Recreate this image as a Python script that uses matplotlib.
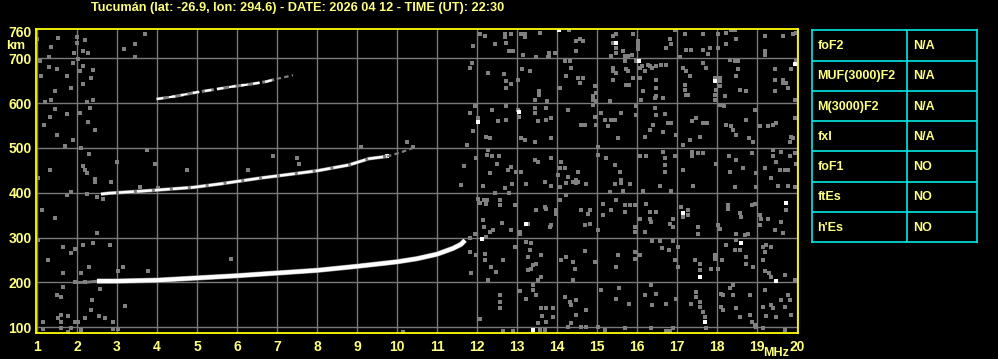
import matplotlib
matplotlib.use("Agg")
import matplotlib.pyplot as plt

# ---------------- data ----------------
title = "Tucumán (lat: -26.9, lon: 294.6) - DATE: 2026 04 12 - TIME (UT): 22:30"

x_ticks = list(range(1, 21))
y_ticks = [100, 200, 300, 400, 500, 600, 700]
y_top_label = 760

# main F trace (white) and its faint start (gray)
f1_freq = [2.5, 3.0, 4.0, 5.0, 6.0, 7.0, 8.0, 9.0, 10.0, 10.5, 11.0, 11.4, 11.6, 11.7]
f1_height = [203, 203, 205, 210, 215, 221, 227, 236, 246, 253, 263, 276, 285, 294]
f1_gray_freq = [1.9, 2.1, 2.3, 2.5]
f1_gray_height = [200, 200, 201, 203]

# second hop trace
f2_freq = [2.6, 2.8, 3.5, 4.0, 4.9, 5.6, 6.6, 7.4, 8.0, 8.8, 9.3, 9.75]
f2_height = [397, 399, 403, 406, 412, 420, 433, 442, 449, 462, 476, 481]
f2_gray_freq = [9.75, 10.1, 10.4]
f2_gray_height = [481, 490, 500]

# third hop trace
f3_freq = [3.99, 4.45, 4.99, 5.9, 6.33, 6.74, 6.99]
f3_height = [609, 615, 624, 637, 642, 648, 654]
f3_gray_freq = [6.99, 7.2, 7.4]
f3_gray_height = [654, 658, 662]

# scattered noise echoes (gray)
noise_gray = [
    # right side, 500-764 km
    (12.07,753),(12.19,749),(12.44,731),(12.69,753),(12.69,747),(12.73,734),(12.8,716),(12.86,753),
    (12.9,716),(13.11,753),(13.19,753),(13.19,747),(13.58,757),(13.79,712),(13.79,706),(13.94,712),
    (14.29,762),(14.48,738),(14.57,742),(14.65,738),(14.48,717),(15.4,749),(15.48,753),(15.4,734),
    (15.48,723),(15.48,712),(15.65,716),(15.9,753),(15.88,708),(16.03,738),(16.03,731),(16.03,727),
    (16.03,720),(16.82,742),(16.84,731),(16.73,723),(16.94,762),(17.19,754),(17.23,719),(17.34,719),
    (17.65,753),(17.65,719),(17.78,710),(17.82,723),(18.03,753),(18.03,722),(18.23,757),(18.36,762),
    (18.44,762),(18.48,742),(18.23,731),(19.19,749),(19.19,716),(19.19,708),(19.65,749),(19.9,753),
    (19.98,757),(13.15,708),(13.48,702),(13.77,702),(15.36,704),(15.69,704),(15.78,704),(17.07,702),
    (11.9,727),
    (11.88,690),(11.82,678),(12.28,667),(12.68,665),(12.73,649),(12.86,643),(12.73,634),(13.03,652),
    (13.13,675),(13.33,672),(13.54,626),(13.54,619),(13.44,607),(13.75,604),(14.08,634),(14.19,693),
    (14.32,693),(14.36,678),(14.23,660),(14.53,656),(14.57,645),(14.65,656),(14.94,637),(14.98,622),
    (14.9,615),(14.9,607),(14.98,604),(15.32,604),(15.4,678),(15.4,671),(15.48,667),(15.4,652),
    (15.69,693),(15.73,675),(15.78,671),(15.73,641),(15.8,640),(15.9,656),(15.98,693),(16.07,678),
    (16.07,656),(16.13,682),(16.19,671),(16.28,686),(16.32,682),(16.38,678),(16.48,682),(16.48,652),
    (16.48,634),(16.47,615),(16.44,611),(16.61,686),(16.73,684),(16.65,611),(16.15,626),(16.11,607),
    (17.15,678),(17.23,671),(17.32,660),(17.19,641),(17.19,630),(17.22,619),(17.28,619),(17.65,690),
    (17.73,678),(17.94,656),(17.98,630),(17.94,619),(17.94,607),(18.08,656),(18.08,649),(18.08,637),
    (18.19,615),(18.32,697),(18.44,693),(18.53,693),(18.53,675),(18.48,660),(18.58,630),(18.73,626),
    (19.44,675),(19.44,652),(19.65,652),(19.65,645),(19.73,645),(19.78,634),(19.44,626),(19.86,675),
    (19.94,607),(19.98,697),
    (11.94,593),(11.82,578),(12.03,566),(11.9,537),(12.38,585),(12.53,559),(12.73,593),(12.73,563),
    (13.03,585),(13.04,570),(13.44,589),(13.44,578),(13.53,559),(13.73,589),(13.73,563),(13.86,566),
    (13.11,522),(13.19,518),(13.44,514),(13.84,522),(14.28,585),(14.61,552),(14.69,552),(14.98,552),
    (14.9,596),(14.94,570),(15.11,578),(15.19,563),(15.28,548),(15.36,563),(15.44,563),(15.53,522),
    (15.61,578),(15.98,593),(15.98,574),(16.19,525),(16.32,540),(16.4,552),(16.44,589),(16.48,574),
    (16.69,575),(16.78,555),(16.84,555),(16.65,535),(16.98,529),(17.15,507),(17.32,518),(17.38,559),
    (17.48,566),(17.57,525),(17.65,555),(17.75,555),(18.07,596),(18.17,593),(18.23,552),(18.36,548),
    (18.4,540),(18.48,529),(18.73,563),(18.8,522),(18.9,514),(18.94,585),(19.07,548),(19.28,548),
    (19.4,552),(19.48,555),(19.86,525),(19.9,522),(19.82,514),(19.94,566),(12.23,525),(12.33,522),
    (12.28,496),(12.25,484),(12.38,481),(12.55,481),(12.5,464),(11.98,477),(12.32,443),(12.78,451),
    (12.86,458),(12.98,447),(13.11,446),(13.44,473),(13.53,469),(13.86,477),(14.11,469),(14.07,455),
    (14.19,455),(14.28,436),(14.53,446),(14.03,440),(14.4,425),(14.48,428),(15.03,503),(15.03,484),
    (15.23,477),(15.44,462),(15.58,447),(15.61,428),(16.07,482),(16.23,482),(16.65,492),(16.69,477),
    (16.69,462),(16.69,447),(16.94,481),(17.15,451),(17.38,492),(17.38,481),(17.53,488),(17.65,488),
    (17.98,464),(18.3,481),(18.32,447),(18.48,473),(18.65,455),(18.88,488),(18.97,443),(19.19,455),
    (19.4,496),(19.61,492),(19.4,481),(19.48,469),(19.57,451),(19.69,451),(19.78,451),(19.82,481),
    (19.94,488),(19.97,464),(19.36,432),
    # right side, 87-430 km
    (12.15,416),(12.69,411),(12.88,419),(13.23,420),(13.69,424),(13.86,416),(14.08,413),(14.23,421),
    (14.47,421),(14.53,424),(14.73,420),(15.44,420),(15.61,421),(15.82,420),(15.32,401),(15.65,405),
    (16.15,405),(16.57,414),(16.86,405),(17.4,416),(18.44,413),(18.98,413),(19.53,416),(19.78,414),
    (19.94,413),(12.44,399),(12.8,399),
    (12.03,387),(12.07,377),(12.17,384),(12.25,383),(12.22,374),(12.58,372),(12.58,383),(12.94,372),
    (12.15,340),(12.17,324),(12.33,313),(12.4,316),(12.63,333),(12.86,318),(13.07,313),(13.07,307),
    (13.28,330),(13.48,362),(13.69,368),(13.73,364),(13.86,327),(13.82,324),(13.98,362),(13.98,353),
    (14.08,384),(14.23,394),(14.61,361),(14.69,327),(14.78,353),(14.82,362),(14.83,331),(15.03,318),
    (15.15,350),(15.15,376),(15.36,361),(15.48,384),(15.69,372),(15.69,357),(15.82,372),(15.94,372),
    (15.94,324),(15.94,313),(16.19,313),(16.08,342),(16.23,376),(16.32,357),(16.32,342),(16.36,335),
    (16.48,357),(16.82,331),(16.9,342),(16.9,324),(17.15,346),(17.11,368),(17.28,361),(17.28,350),
    (17.53,324),(17.53,309),(18.03,327),(18.07,320),(18.28,372),(18.28,364),(18.48,309),(18.58,355),
    (18.61,346),(18.69,305),(18.78,309),(18.88,372),(18.94,376),(19.07,327),(19.07,350),(19.11,342),
    (19.28,342),(19.44,316),(19.65,310),(19.73,362),(19.61,335),(11.94,307),(11.82,300),(12.22,301),
    (11.82,268),(11.97,261),(12.19,263),(12.19,250),(12.36,235),(12.48,224),(12.65,250),(12.94,279),
    (13.23,290),(13.36,287),(13.32,272),(13.28,227),(13.36,231),(13.4,238),(13.48,242),(13.61,261),
    (13.28,257),(13.61,213),(14.11,250),(14.23,257),(14.4,246),(14.44,231),(14.4,205),(14.69,270),
    (14.94,246),(15.48,235),(15.53,261),(15.94,268),(15.94,253),(16.07,261),(16.38,292),(16.58,292),
    (16.9,292),(16.63,276),(16.8,272),(16.94,250),(17.03,235),(17.03,279),(17.44,250),(17.58,242),
    (17.58,227),(17.86,231),(17.94,261),(17.94,253),(18.03,229),(18.13,250),(18.23,283),(18.44,272),
    (18.48,294),(18.58,272),(18.73,257),(18.73,242),(18.9,235),(19.15,279),(19.19,268),(19.23,283),
    (19.36,279),(19.15,250),(19.19,226),(19.3,220),(19.36,213),(19.69,216),(19.94,205),(11.86,221),
    (12.28,205),(13.53,205),
    (12.08,118),(12.57,172),(12.58,157),(12.58,144),(13.08,181),(13.23,162),(13.4,194),(13.4,183),
    (13.48,172),(13.61,142),(13.73,142),(13.9,142),(13.63,125),(13.73,112),(13.53,110),(13.58,95),
    (13.69,95),(13.9,124),(14.19,168),(14.32,157),(14.36,150),(14.48,161),(14.73,138),(14.48,127),
    (14.36,109),(14.28,101),(14.61,101),(14.73,101),(15.03,101),(15.09,183),(15.19,94),(15.55,187),
    (15.48,164),(15.8,153),(15.69,98),(16.19,172),(16.36,194),(16.38,150),(16.48,175),(16.73,153),
    (16.98,164),(16.9,98),(16.36,98),(17.36,153),(17.48,179),(17.48,168),(17.57,157),(17.57,146),
    (17.65,135),(17.69,124),(17.73,98),(18.11,175),(18.15,172),(18.11,146),(18.15,138),(18.32,187),
    (18.4,194),(18.4,172),(18.48,142),(18.58,124),(18.82,172),(18.82,127),(18.88,112),(18.94,105),
    (19.15,146),(19.19,183),(19.36,150),(19.4,142),(19.61,161),(19.69,146),(19.78,172),(19.82,161),
    (19.86,127),(19.23,125),(19.48,124),(19.69,94),(18.98,101),(19.15,98),(12.65,92),(12.9,92),
    (16.73,92),(16.82,92),
    # left side
    (1.0,742),(1.34,724),(1.53,744),(1.99,747),(1.99,733),(2.2,740),(2.15,716),(2.28,711),(1.93,711),
    (1.3,702),(1.08,693),(1.3,680),(1.5,677),(1.9,689),(2.03,698),(2.15,682),(2.4,673),(2.08,671),
    (1.1,660),(1.75,660),(2.35,655),(2.15,642),(1.85,633),(1.45,626),(1.2,602),(1.35,606),(1.45,586),
    (2.08,577),(2.25,602),(2.4,606),(2.33,588),(1.75,575),(1.33,568),
    (3.18,720),(3.45,731),(3.7,755),(3.45,702),
    (1.7,504),(1.9,517),(2.09,499),(2.3,486),(2.14,460),(2.2,450),(2.24,445),(2.45,424),(2.45,430),
    (2.84,424),(2.99,469),(3.74,495),(3.95,464),(4.74,450),(6.28,450),(6.89,481),(7.49,478),(7.55,464),
    (1.74,395),(1.85,402),(2.24,397),(2.49,391),(2.64,385),(3.58,413),(3.48,402),(4.03,410),
    (2.49,311),(1.64,280),(1.95,274),(2.14,283),(2.39,288),(1.85,266),(2.3,235),(3.14,235),(3.03,226),
    (3.78,226),(2.09,222),(1.64,222),(5.84,252),(1.64,190),(1.6,168),(1.95,202),(2.2,202),(2.58,185),
    (1.14,112),(1.14,96),(1.59,127),(1.59,112),(1.59,98),(1.53,121),(1.78,126),(1.95,112),(2.03,112),
    (2.09,94),(1.78,90),(1.84,98),(2.2,121),(2.34,139),(2.55,126),(2.7,121),(2.89,112),(2.89,96),
    (3.03,96),(3.2,147),(10.15,90),
    (10.24,513),(10.41,501),(9.1,501),(11.74,506),(11.68,460),(11.59,418),
    (1.18,551),(1.5,528),(2.28,557),(2.45,539),(1.33,450),(1.03,433),(1.13,361),(1.45,343),
    (1.28,250),(1.03,295),(2.83,283),(1.5,172),(2.38,161),
]

# brighter noise echoes (white)
noise_white = [
    (14.04,762),(15.48,734),(16.04,693),(17.94,649),(19.94,687),(12.03,558),(13.04,580),
    (13.23,331),(17.15,355),(19.73,377),(12.13,297),(17.58,213),(18.59,288),(19.48,204),
    (13.4,95),(17.69,112),(9.75,481),
]

table_labels = ["foF2", "MUF(3000)F2", "M(3000)F2", "fxI", "foF1", "ftEs", "h'Es"]
table_values = ["N/A", "N/A", "N/A", "N/A", "NO", "NO", "NO"]

# ---------------- style ----------------
YEL_TXT = "#FFFF80"
YEL_FRAME = "#FFFF00"
GRID = "#7a7a7a"
NOISE = "#808080"
CYAN = "#00E8E8"
FONT = ["Liberation Sans", "DejaVu Sans"]

W, H = 998, 359
fig = plt.figure(figsize=(W / 100, H / 100), dpi=100, facecolor="black")

def fx(px):
    return px / W

def fy(py):
    return 1 - py / H

ax = fig.add_axes([fx(36), fy(333.3), fx(798) - fx(36), fy(29.3) - fy(333.3)])
ax.set_facecolor("black")
ax.set_xlim(0.975, 20.025)
ax.set_ylim(86.6, 764.5)

for xv in x_ticks:
    ax.axvline(xv, color=GRID, lw=1.0, zorder=1)
for yv in y_ticks:
    ax.axhline(yv, color=GRID, lw=1.0, zorder=1)

ng_f = [p[0] for p in noise_gray]
ng_h = [p[1] for p in noise_gray]
nw_f = [p[0] for p in noise_white]
nw_h = [p[1] for p in noise_white]
ax.plot(ng_f, ng_h, ls="none", marker="s", ms=2.2, mew=0, color=NOISE, zorder=2)
ax.plot(nw_f, nw_h, ls="none", marker="s", ms=2.4, mew=0, color="white", zorder=3)

# traces
ax.plot(f1_gray_freq, f1_gray_height, color=NOISE, lw=2.0, zorder=3, solid_capstyle="butt")
ax.plot(f1_freq, f1_height, color=NOISE, lw=3.8, zorder=3, solid_capstyle="butt")
ax.plot(f1_freq, f1_height, color="white", lw=3.0, zorder=4, solid_capstyle="butt")

ax.plot(f2_gray_freq, f2_gray_height, color=NOISE, lw=1.6, zorder=3, ls=(0, (2, 1.5)))
ax.plot(f2_freq, f2_height, color=NOISE, lw=2.6, zorder=3, solid_capstyle="butt")
ax.plot(f2_freq, f2_height, color="white", lw=1.8, zorder=4, ls=(0, (6, 1.2)))

ax.plot(f3_gray_freq, f3_gray_height, color=NOISE, lw=1.6, zorder=3, ls=(0, (2, 1.5)))
ax.plot(f3_freq, f3_height, color=NOISE, lw=2.2, zorder=3, ls=(0, (4, 1)))
ax.plot(f3_freq, f3_height, color="white", lw=1.6, zorder=4, ls=(0, (3, 2.5)))

for sp in ax.spines.values():
    sp.set_color(YEL_FRAME)
    sp.set_linewidth(1.3)
    sp.set_zorder(6)

ax.set_xticks(x_ticks)
ax.set_xticklabels([str(v) for v in x_ticks])
ax.set_yticks(y_ticks + [y_top_label])
ax.set_yticklabels([str(v) for v in y_ticks + [y_top_label]])
ax.tick_params(length=0, colors=YEL_TXT, labelsize=10)
ax.tick_params(axis="x", pad=5)
ax.tick_params(axis="y", pad=3)
for lab in ax.get_xticklabels() + ax.get_yticklabels():
    lab.set_fontweight("bold")
    lab.set_family(FONT)

fig.text(fx(91), fy(8), title, color=YEL_TXT, fontsize=9.2, fontweight="bold",
         family=FONT, ha="left", va="center")
fig.text(fx(6), fy(46), "km", color=YEL_TXT, fontsize=9.5, fontweight="bold",
         family=FONT, ha="left", va="center")
fig.text(fx(789), fy(353), "MHz", color=YEL_TXT, fontsize=9, fontweight="bold",
         family=FONT, ha="right", va="center")

# table
tx0, tx1, ty0, ty1 = 812.3, 977.3, 30.3, 242.3
tax = fig.add_axes([fx(tx0), fy(ty1), fx(tx1) - fx(tx0), fy(ty0) - fy(ty1)])
tax.set_facecolor("black")
n = len(table_labels)
tax.set_xlim(0, 1)
tax.set_ylim(n, 0)
tax.set_xticks([])
tax.set_yticks([])
for sp in tax.spines.values():
    sp.set_color(CYAN)
    sp.set_linewidth(1.2)
for i in range(1, n):
    tax.axhline(i, color=CYAN, lw=1.2)
div = (907.3 - tx0) / (tx1 - tx0)
tax.axvline(div, color=CYAN, lw=1.2)
for i, (lab, val) in enumerate(zip(table_labels, table_values)):
    tax.text(0.03, i + 0.52, lab, color=YEL_TXT, fontsize=9, fontweight="bold",
             family=FONT, ha="left", va="center")
    tax.text(div + 0.035, i + 0.52, val, color=YEL_TXT, fontsize=9, fontweight="bold",
             family=FONT, ha="left", va="center")

fig.savefig("out.png", dpi=100, facecolor="black")
